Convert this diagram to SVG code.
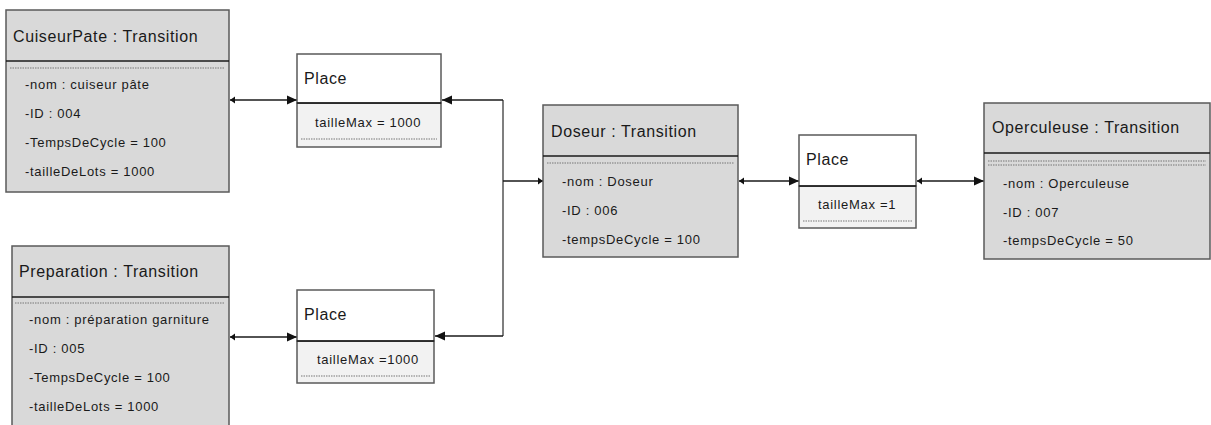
<svg xmlns="http://www.w3.org/2000/svg" width="1211" height="425" viewBox="0 0 1211 425">
<style>
.tr{fill:#d9d9d9;stroke:#5a5a5a;stroke-width:1.5}
.ph{fill:#ffffff;stroke:#5a5a5a;stroke-width:1.5}
.pb{fill:#f2f2f2;stroke:#5a5a5a;stroke-width:1.5}
.div{stroke:#1a1a1a;stroke-width:1.5}
.dash{stroke:#777;stroke-width:1;stroke-dasharray:1.5 1}
.title{font-family:"Liberation Sans",Arial,sans-serif;font-size:16px;letter-spacing:0.6px;fill:#1a1a1a}
.attr{font-family:"Liberation Sans",Arial,sans-serif;font-size:13px;letter-spacing:0.7px;fill:#1a1a1a}
.con{fill:none;stroke:#1a1a1a;stroke-width:1.3}
.v{fill:none;stroke:#555;stroke-width:1.5}
</style>
<defs>
<marker id="big" markerUnits="userSpaceOnUse" markerWidth="12" markerHeight="10" refX="10" refY="5" orient="auto">
<path d="M0,0.5 L10,5 L0,9.5 Z" fill="#111"/>
</marker>
<marker id="small" markerUnits="userSpaceOnUse" markerWidth="8" markerHeight="8" refX="5" refY="4" orient="auto-start-reverse">
<path d="M0,0.5 L5,4 L0,7.5 Z" fill="#111"/>
</marker>
</defs>

<g id="connectors">
<line class="con" x1="230" y1="100" x2="297" y2="100" marker-start="url(#small)" marker-end="url(#big)"/>
<line class="con" x1="230" y1="337" x2="297" y2="337" marker-start="url(#small)" marker-end="url(#big)"/>
<path class="v" d="M503,100 V336"/>
<line class="con" x1="503" y1="100" x2="442" y2="100" marker-end="url(#big)"/>
<line class="con" x1="503" y1="336" x2="435" y2="336" marker-end="url(#big)"/>
<line class="con" x1="503" y1="181" x2="543" y2="181" marker-end="url(#small)"/>
<line class="con" x1="739" y1="181" x2="799" y2="181" marker-start="url(#small)" marker-end="url(#big)"/>
<line class="con" x1="917" y1="181" x2="984" y2="181" marker-start="url(#small)" marker-end="url(#big)"/>
</g>

<g id="cuiseurpate">
<rect class="tr" x="6" y="10" width="223" height="182"/>
<line class="div" x1="6" y1="61" x2="229" y2="61"/>
<line class="dash" x1="10" y1="68" x2="225" y2="68"/>
<text class="title" x="13" y="42">CuiseurPate : Transition</text>
<text class="attr" x="25" y="89">-nom : cuiseur pâte</text>
<text class="attr" x="25" y="118">-ID : 004</text>
<text class="attr" x="25" y="147">-TempsDeCycle = 100</text>
<text class="attr" x="25" y="176">-tailleDeLots = 1000</text>
</g>

<g id="preparation">
<rect class="tr" x="12" y="246" width="217" height="190"/>
<line class="div" x1="12" y1="297" x2="229" y2="297"/>
<line class="dash" x1="15" y1="303" x2="225" y2="303"/>
<text class="title" x="19" y="277">Preparation : Transition</text>
<text class="attr" x="29" y="324">-nom : préparation garniture</text>
<text class="attr" x="29" y="353">-ID : 005</text>
<text class="attr" x="29" y="382">-TempsDeCycle = 100</text>
<text class="attr" x="29" y="411">-tailleDeLots = 1000</text>
</g>

<g id="place1">
<rect class="pb" x="297" y="103" width="144" height="44"/>
<rect class="ph" x="297" y="54" width="144" height="49"/>
<line class="div" x1="297" y1="103" x2="441" y2="103"/>
<line class="dash" x1="301" y1="139" x2="437" y2="139"/>
<text class="title" x="304" y="84">Place</text>
<text class="attr" x="315" y="127">tailleMax = 1000</text>
</g>

<g id="place2">
<rect class="pb" x="297" y="341" width="137" height="42"/>
<rect class="ph" x="297" y="290" width="137" height="51"/>
<line class="div" x1="297" y1="341" x2="434" y2="341"/>
<line class="dash" x1="301" y1="376" x2="430" y2="376"/>
<text class="title" x="304" y="320">Place</text>
<text class="attr" x="317" y="364">tailleMax =1000</text>
</g>

<g id="doseur">
<rect class="tr" x="543" y="105" width="195" height="152"/>
<line class="div" x1="543" y1="156" x2="738" y2="156"/>
<line class="dash" x1="547" y1="163" x2="734" y2="163"/>
<text class="title" x="551" y="137">Doseur : Transition</text>
<text class="attr" x="562" y="186">-nom : Doseur</text>
<text class="attr" x="562" y="215">-ID : 006</text>
<text class="attr" x="562" y="244">-tempsDeCycle = 100</text>
</g>

<g id="place3">
<rect class="pb" x="799" y="186" width="117" height="42"/>
<rect class="ph" x="799" y="135" width="117" height="51"/>
<line class="div" x1="799" y1="186" x2="916" y2="186"/>
<line class="dash" x1="803" y1="221" x2="912" y2="221"/>
<text class="title" x="806" y="165">Place</text>
<text class="attr" x="818" y="209">tailleMax =1</text>
</g>

<g id="operculeuse">
<rect class="tr" x="984" y="103" width="226" height="156"/>
<line class="div" x1="984" y1="153" x2="1210" y2="153"/>
<line class="dash" x1="988" y1="161" x2="1206" y2="161"/>
<line class="dash" x1="988" y1="165" x2="1206" y2="165"/>
<text class="title" x="992" y="133">Operculeuse : Transition</text>
<text class="attr" x="1003" y="188">-nom : Operculeuse</text>
<text class="attr" x="1003" y="217">-ID : 007</text>
<text class="attr" x="1003" y="245">-tempsDeCycle = 50</text>
</g>
</svg>
